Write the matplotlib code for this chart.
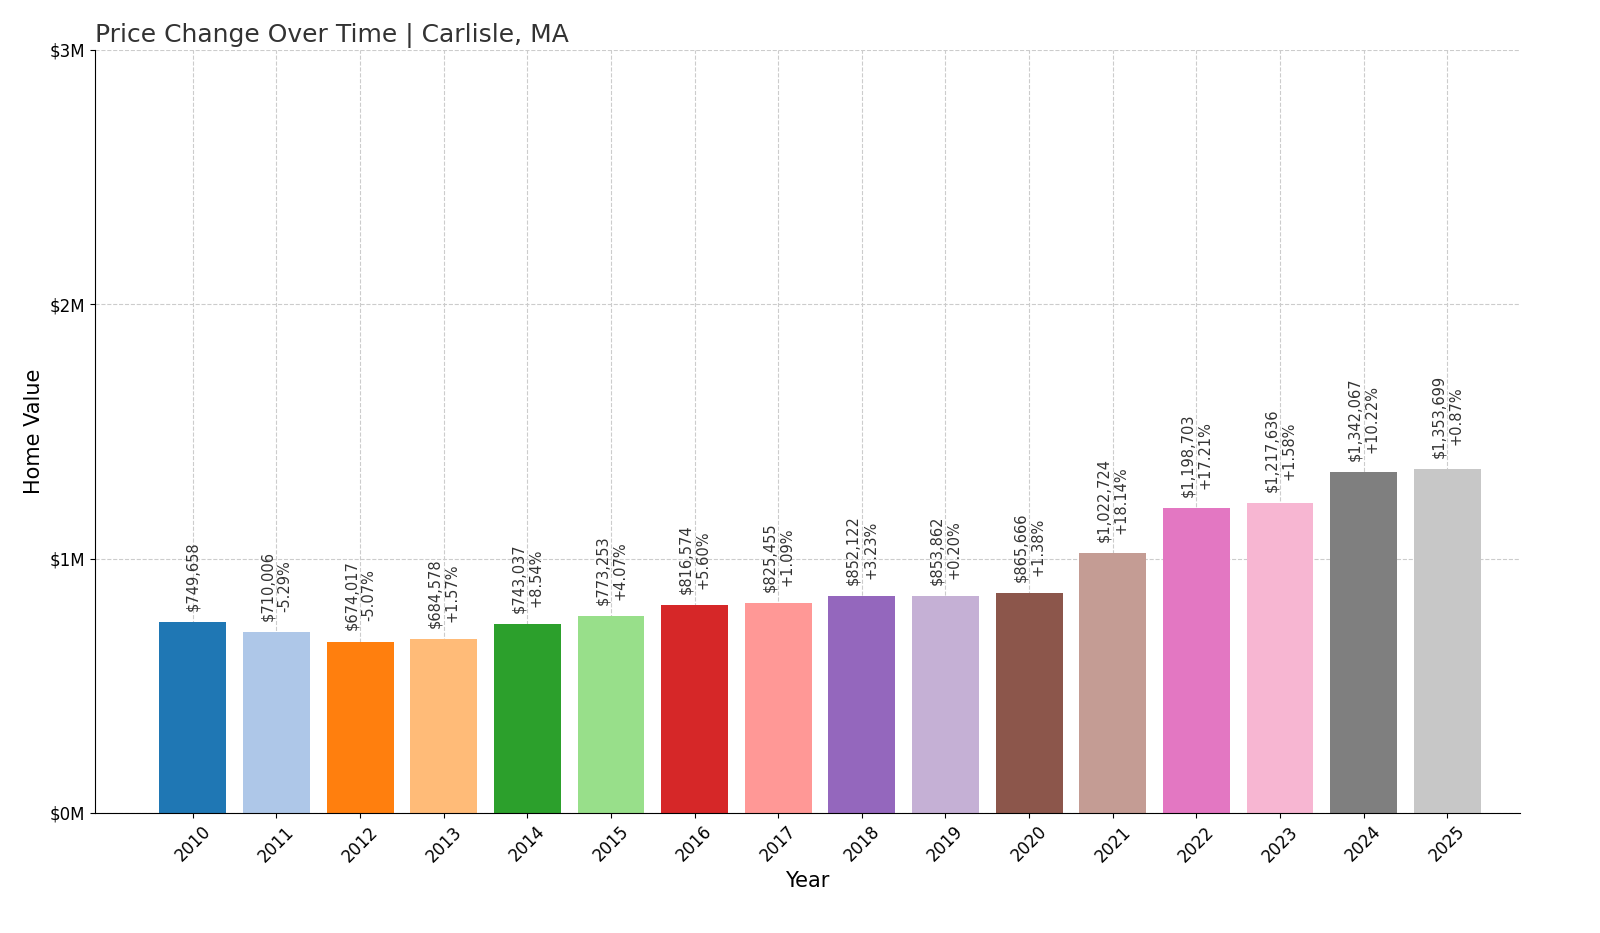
import matplotlib
matplotlib.use("Agg")
import matplotlib.pyplot as plt

years = [2010,2011,2012,2013,2014,2015,2016,2017,2018,2019,2020,2021,2022,2023,2024,2025]
values = [749658,710006,674017,684578,743037,773253,816574,825455,852122,853862,865666,1022724,1198703,1217636,1342067,1353699]
pcts = [None,"-5.29%","-5.07%","+1.57%","+8.54%","+4.07%","+5.60%","+1.09%","+3.23%","+0.20%","+1.38%","+18.14%","+17.21%","+1.58%","+10.22%","+0.87%"]
yticks = [0,1e6,2e6,3e6]
ytick_labels = ["$0M","$1M","$2M","$3M"]

colors = plt.get_cmap("tab20").colors
fig = plt.figure(figsize=(16,9.33), dpi=100)
ax = fig.add_axes([95/1600, 1-813/933, 1425/1600, 763/933])
x = list(range(len(years)))
ax.bar(x, values, width=0.8, color=[colors[i % 20] for i in x], zorder=2)
for i, v in enumerate(values):
    txt = f"${v:,}" if pcts[i] is None else f"${v:,}\n{pcts[i]}"
    ax.annotate(txt, (i, v), xytext=(0, 8), textcoords="offset points",
                rotation=90, ha="center", va="bottom", fontsize=10.5, color="#333333")
ax.set_xticks(x)
ax.set_xticklabels([str(y) for y in years], rotation=45, fontsize=12)
ax.set_yticks(yticks)
ax.set_yticklabels(ytick_labels, fontsize=12)
ax.set_ylim(0, 3e6)
ax.set_xlim(-1.17, 15.87)
ax.grid(True, linestyle="--", color="#cccccc", zorder=0)
ax.spines["top"].set_visible(False)
ax.spines["right"].set_visible(False)
ax.set_xlabel("Year", fontsize=15)
ax.set_ylabel("Home Value", fontsize=15)
ax.set_title("Price Change Over Time | Carlisle, MA", loc="left", fontsize=18, color="#333333")
fig.savefig("out.png", dpi=100)
